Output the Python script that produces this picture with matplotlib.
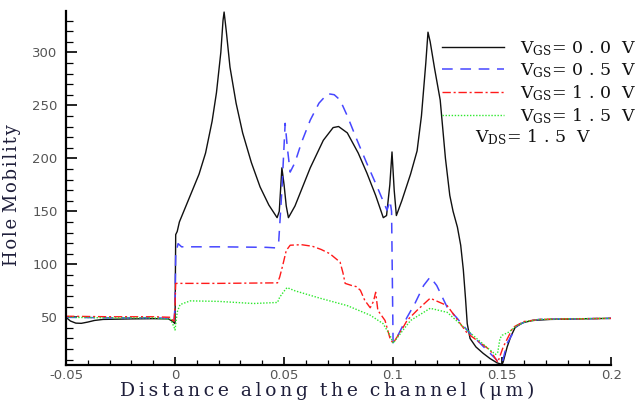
import matplotlib
matplotlib.use("Agg")
import matplotlib.pyplot as plt
import numpy as np

plt.rcParams['mathtext.fontset'] = 'dejavuserif'

# hole mobility along the channel, four gate biases
x_vgs00 = [-0.05, -0.048, -0.0455, -0.043, -0.04, -0.037, -0.033, -0.02, -0.01, -0.003, -0.001, 0.0,
           0.0003, 0.001, 0.002, 0.005, 0.008, 0.011, 0.014, 0.017, 0.019, 0.021, 0.022, 0.0225,
           0.0235, 0.0252, 0.028, 0.031, 0.035, 0.039, 0.043, 0.0468, 0.0478, 0.049, 0.050, 0.051,
           0.052, 0.055, 0.062, 0.068, 0.0725, 0.075, 0.079, 0.084, 0.088, 0.092, 0.0955, 0.097,
           0.0985, 0.0995, 0.1005, 0.1015, 0.104, 0.108, 0.111, 0.113, 0.115, 0.116, 0.117, 0.119,
           0.1216, 0.124, 0.126, 0.1275, 0.1295, 0.131, 0.1322, 0.1332, 0.134, 0.1353, 0.138, 0.1413,
           0.1445, 0.1477, 0.150, 0.1505, 0.1523, 0.154, 0.156, 0.1596, 0.164, 0.172, 0.185, 0.2]
y_vgs00 = [50, 46.5, 44.5, 44.3, 45.5, 47, 48, 48.5, 48.7, 48.5, 46, 44,
           128, 131, 140, 155, 170, 185, 205, 235, 262, 300, 330, 338,
           320, 286, 252, 224, 196, 173, 156, 144, 150, 191, 175, 155,
           144, 155, 191, 217, 229, 230, 224, 205, 186, 165, 144, 146,
           175, 206, 170, 146, 160, 185, 207, 240, 290, 319, 310, 285,
           255, 200, 165, 150, 135, 118, 95, 68, 44, 30, 22, 16,
           11, 7, 5.5, 8, 22, 32, 40.5, 45, 47, 48, 48.5, 49]

x_vgs05 = [-0.05, -0.03, -0.01, -0.002, -0.0005, 0.0, 0.0003, 0.0014, 0.003, 0.02, 0.042, 0.046,
           0.0475, 0.049, 0.0505, 0.0515, 0.0528, 0.055, 0.058, 0.062, 0.066, 0.070, 0.073, 0.0757,
           0.079, 0.0835, 0.088, 0.0927, 0.0972, 0.0986, 0.0993, 0.0998, 0.1, 0.1015, 0.1064, 0.110,
           0.114, 0.117, 0.120, 0.1248, 0.129, 0.134, 0.1445, 0.149, 0.150, 0.1523, 0.157, 0.161,
           0.167, 0.18, 0.2]
y_vgs05 = [50, 49.5, 49.5, 49, 46, 60, 110, 119.5, 116.5, 116.5, 116, 115.5,
           120, 170, 233, 210, 187, 196, 215, 236, 252, 261, 260, 255,
           240, 217, 195, 173, 151, 160, 150, 60, 26, 30, 50, 63,
           80, 88, 80, 59.5, 50, 37.7, 16, 6.6, 7, 25.5, 42.5, 46,
           48, 48.5, 49]

x_vgs10 = [-0.05, -0.03, -0.01, -0.002, -0.0005, 0.0, 0.0003, 0.02, 0.047, 0.048, 0.0495, 0.051,
           0.0528, 0.058, 0.063, 0.067, 0.071, 0.0757, 0.077, 0.078, 0.081, 0.083, 0.085, 0.087,
           0.0895, 0.091, 0.092, 0.093, 0.0963, 0.0986, 0.1, 0.1046, 0.1064, 0.111, 0.117, 0.1248,
           0.134, 0.1445, 0.148, 0.1505, 0.155, 0.16, 0.167, 0.18, 0.2]
y_vgs10 = [51, 50.5, 50.5, 50, 45, 60, 82, 82, 82.5, 88, 100, 113,
           118, 118.5, 117, 114, 110, 102, 92, 82, 80, 79, 75.5, 66,
           59, 65, 73.6, 56.6, 47, 30, 25.5, 40.5, 47, 56.6, 68, 61,
           35, 19, 7.5, 22, 40.5, 46, 48, 48.5, 49]

x_vgs15 = [-0.05, -0.03, -0.01, -0.002, -0.0003, 0.0, 0.001, 0.0023, 0.007, 0.02, 0.036, 0.047,
           0.048, 0.0505, 0.0514, 0.055, 0.0665, 0.079, 0.0895, 0.0954, 0.0986, 0.1, 0.1046, 0.108,
           0.117, 0.1248, 0.134, 0.1445, 0.147, 0.148, 0.149, 0.150, 0.153, 0.157, 0.161, 0.167,
           0.18, 0.2]
y_vgs15 = [50, 49.5, 49.5, 48, 40, 38, 55, 62, 65.5, 65, 63, 64,
           69, 76, 78, 75, 68, 61, 52, 44, 33, 25.5, 38, 47,
           58.5, 54.7, 37.7, 19, 15, 17, 30, 33, 36, 42.5, 46, 48,
           48.5, 49]

labels = [r'V$_{\mathrm{GS}}$= 0 . 0  V', r'V$_{\mathrm{GS}}$= 0 . 5  V',
          r'V$_{\mathrm{GS}}$= 1 . 0  V', r'V$_{\mathrm{GS}}$= 1 . 5  V']

fig = plt.figure(figsize=(6.44, 4.01), dpi=100)
ax = fig.add_axes([0.1025, 0.0898, 0.8465, 0.8828])

ax.plot(x_vgs00, y_vgs00, color='#111111', lw=1.0, label=labels[0])
ax.plot(x_vgs05, y_vgs05, color='#4747ff', lw=1.1, dashes=(7, 5), label=labels[1])
ax.plot(x_vgs10, y_vgs10, color='#ff1a1a', lw=1.0, dashes=(6, 2, 1.5, 2), label=labels[2])
ax.plot(x_vgs15, y_vgs15, color='#2ee82e', lw=1.0, dashes=(1, 1.2), label=labels[3])

ax.set_xlim(-0.05, 0.2)
ax.set_ylim(5, 339)
ax.set_xticks([-0.05, 0, 0.05, 0.1, 0.15, 0.2])
ax.set_xticklabels(['-0.05', '0', '0.05', '0.1', '0.15', '0.2'])
ax.set_xticks(np.arange(-0.05, 0.2001, 0.01), minor=True)
ax.set_yticks([50, 100, 150, 200, 250, 300])
ax.set_yticks(np.arange(10, 340, 10), minor=True)

for s in ['top', 'right']:
    ax.spines[s].set_visible(False)
for s in ['left', 'bottom']:
    ax.spines[s].set_linewidth(1.6)

ax.tick_params(axis='x', which='major', direction='in', length=5.5, width=1.2, pad=3,
               labelsize=9.5, labelcolor='#555555')
ax.tick_params(axis='x', which='minor', direction='in', length=3.5, width=0.9)
ax.tick_params(axis='y', which='major', direction='in', length=8, width=1.2, pad=6,
               labelsize=9.5, labelcolor='#555555')
ax.tick_params(axis='y', which='minor', direction='in', length=5, width=0.9)

def spaced(txt, gap, word_gap):
    return word_gap.join(gap.join(w) for w in txt.split(' '))

ax.set_xlabel(spaced('Distance along the channel (\u03bcm)', '\u2009', '  '), fontsize=13.5,
              family='DejaVu Serif', color='#1e1e3a')
ax.xaxis.set_label_coords(0.48, -0.046)
ax.set_ylabel(spaced('Hole Mobility', '\u200a', ' '), fontsize=13, family='DejaVu Serif',
              color='#1e1e3a')
ax.yaxis.set_label_coords(-0.082, 0.48)

leg = ax.legend(loc='upper right', bbox_to_anchor=(0.998, 0.92), bbox_transform=fig.transFigure,
                frameon=False, handlelength=3.6, handletextpad=0.9, labelspacing=0.2,
                borderaxespad=0, prop={'family': 'DejaVu Serif', 'size': 12.5})
for t in leg.get_texts():
    t.set_color('#111111')

ax.text(0.75, 0.644, r'V$_{\mathrm{DS}}$= 1 . 5  V', transform=ax.transAxes, va='center',
        family='DejaVu Serif', fontsize=12.5, color='#111111')

plt.savefig('out.png', dpi=100)
